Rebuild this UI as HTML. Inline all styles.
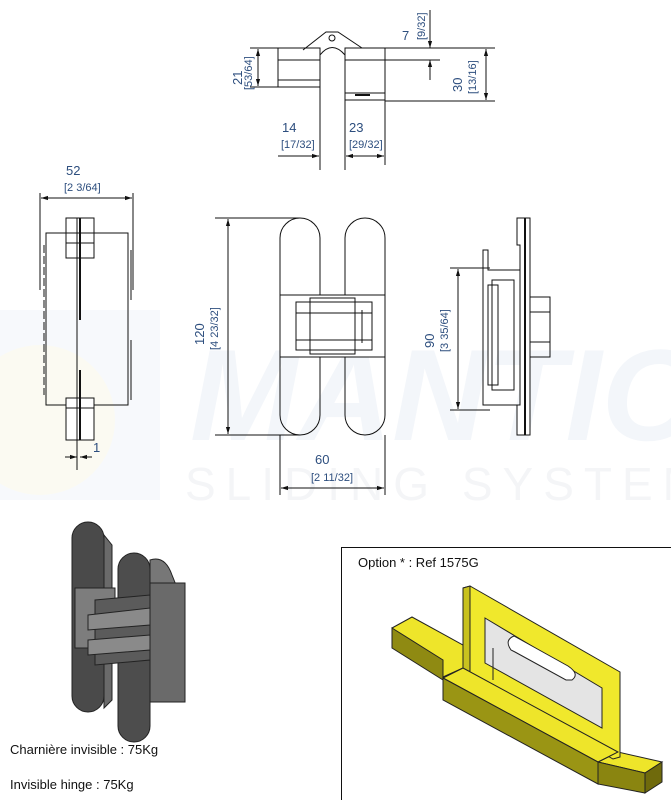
<!DOCTYPE html>
<html><head><meta charset="utf-8"><style>
html,body{margin:0;padding:0;background:#fff;}
svg{display:block;}
text{font-family:"Liberation Sans",sans-serif;}
.b{fill:#2d4e7e;font-size:13px;}
.k{fill:#111;}
</style></head><body>
<svg width="671" height="800" viewBox="0 0 671 800" xmlns="http://www.w3.org/2000/svg">
<defs>
<marker id="a" viewBox="0 0 10 10" refX="10" refY="5" markerWidth="7" markerHeight="7" orient="auto-start-reverse"><path d="M0,2 L10,5 L0,8z" fill="#111"/></marker>
</defs>
<!-- watermark -->
<g>
<path d="M0,310 L160,310 L160,500 L0,500z" fill="#f7f9fc"/>
<circle cx="40" cy="420" r="75" fill="#fbfaf2"/>
<text x="190" y="440" font-size="130" font-style="italic" font-weight="bold" fill="#f3f6fa">MANTION</text>
<text x="185" y="500" font-size="46" fill="#f4f5f7" letter-spacing="10">SLIDING SYSTEM</text>
</g>
<g stroke="#111" stroke-width="1" fill="none">
<!-- TOP VIEW -->
<rect x="278" y="48" width="42" height="39" fill="#fff"/>
<line x1="278" y1="60" x2="320" y2="60"/><line x1="278" y1="80" x2="320" y2="80"/>
<rect x="345" y="48" width="40" height="52" fill="#fff"/>
<line x1="345" y1="60" x2="385" y2="60"/><line x1="345" y1="93" x2="385" y2="93"/>
<path d="M303,50 L326,32 L338,32 L362,48"/>
<circle cx="332" cy="38" r="3"/>
<path d="M320,170 L320,55 Q332,40 345,55 L345,170" fill="#fff"/>
<path d="M355,95 h15" stroke-width="2"/>
<line x1="250" y1="48" x2="278" y2="48"/><line x1="250" y1="87" x2="278" y2="87"/>
<line x1="258" y1="49" x2="258" y2="86" marker-start="url(#a)" marker-end="url(#a)"/>
<line x1="385" y1="48" x2="495" y2="48"/><line x1="385" y1="60" x2="440" y2="60"/><line x1="385" y1="101" x2="495" y2="101"/>
<line x1="430" y1="10" x2="430" y2="48" marker-end="url(#a)"/><line x1="430" y1="80" x2="430" y2="60" marker-end="url(#a)"/>
<line x1="486" y1="49" x2="486" y2="100" marker-start="url(#a)" marker-end="url(#a)"/>
<line x1="385" y1="100" x2="385" y2="165"/>
<line x1="278" y1="156" x2="319" y2="156" marker-end="url(#a)"/>
<line x1="346" y1="156" x2="384" y2="156" marker-start="url(#a)" marker-end="url(#a)"/>
<!-- LEFT SIDE VIEW -->
<line x1="40" y1="193" x2="40" y2="290"/><line x1="133" y1="193" x2="133" y2="290"/>
<line x1="41" y1="198" x2="132" y2="198" marker-start="url(#a)" marker-end="url(#a)"/>
<path d="M46,233 L128,233 L128,405 L46,405 Z"/>
<line x1="44" y1="245" x2="44" y2="395" stroke-dasharray="8 3"/>
<line x1="131" y1="250" x2="131" y2="300"/><line x1="131" y1="340" x2="131" y2="400"/>
<rect x="66" y="218" width="28" height="40" fill="#fff"/>
<rect x="66" y="233" width="28" height="10" fill="#fff"/>
<rect x="66" y="398" width="28" height="42" fill="#fff"/>
<rect x="66" y="398" width="28" height="10" fill="#fff"/>
<line x1="77" y1="218" x2="77" y2="470"/><line x1="80" y1="218" x2="80" y2="320" stroke-width="2"/>
<line x1="80" y1="370" x2="80" y2="440" stroke-width="2"/>
<line x1="65" y1="457" x2="77" y2="457" marker-end="url(#a)"/><line x1="92" y1="457" x2="80" y2="457" marker-end="url(#a)"/>
<!-- FRONT VIEW -->
<rect x="280" y="218" width="40" height="217" rx="20"/>
<rect x="345" y="218" width="40" height="217" rx="20"/>
<rect x="280" y="295" width="105" height="62" fill="#fff"/>
<rect x="296" y="302" width="76" height="48"/>
<rect x="310" y="298" width="45" height="56"/>
<line x1="296" y1="313" x2="372" y2="313"/><line x1="296" y1="340" x2="372" y2="340"/>
<line x1="362" y1="310" x2="362" y2="343"/>
<line x1="215" y1="218" x2="300" y2="218"/><line x1="215" y1="435" x2="300" y2="435"/>
<line x1="228" y1="219" x2="228" y2="434" marker-start="url(#a)" marker-end="url(#a)"/>
<line x1="280" y1="435" x2="280" y2="495"/><line x1="385" y1="435" x2="385" y2="495"/>
<line x1="281" y1="488" x2="384" y2="488" marker-start="url(#a)" marker-end="url(#a)"/>
<!-- RIGHT SIDE VIEW -->
<path d="M517,218 L530,218 L530,435 L517,435 L517,405 L520,405 L520,245 L517,245Z" fill="#fff"/>
<line x1="525" y1="218" x2="525" y2="435" stroke-width="2"/>
<path d="M520,270 L488,270 L488,250 L483,250 L483,405 L520,405"/>
<rect x="488" y="285" width="10" height="100"/>
<rect x="492" y="280" width="22" height="110"/>
<rect x="530" y="297" width="20" height="60"/>
<line x1="530" y1="312" x2="550" y2="312"/><line x1="530" y1="342" x2="550" y2="342"/>
<line x1="450" y1="268" x2="490" y2="268"/><line x1="450" y1="410" x2="490" y2="410"/>
<line x1="458" y1="269" x2="458" y2="409" marker-start="url(#a)" marker-end="url(#a)"/>
</g>
<g class="b">
<text transform="translate(242,85) rotate(-90)">21</text>
<text transform="translate(252,90) rotate(-90)" font-size="11">[53/64]</text>
<text x="402" y="40">7</text>
<text transform="translate(425,40) rotate(-90)" font-size="11">[9/32]</text>
<text transform="translate(462,92) rotate(-90)">30</text>
<text transform="translate(476,94) rotate(-90)" font-size="11">[13/16]</text>
<text x="282" y="132">14</text><text x="281" y="148" font-size="11">[17/32]</text>
<text x="349" y="132">23</text><text x="349" y="148" font-size="11">[29/32]</text>
<text x="66" y="175">52</text><text x="64" y="191" font-size="11">[2 3/64]</text>
<text x="93" y="452">1</text>
<text transform="translate(204,345) rotate(-90)">120</text>
<text transform="translate(218,350) rotate(-90)" font-size="11">[4 23/32]</text>
<text x="315" y="464">60</text><text x="311" y="481" font-size="11">[2 11/32]</text>
<text transform="translate(434,348) rotate(-90)">90</text>
<text transform="translate(448,352) rotate(-90)" font-size="11">[3 35/64]</text>
</g>
<!-- 3D hinge -->
<g stroke="#222" stroke-width="1">
<rect x="72" y="522" width="32" height="190" rx="16" fill="#4a4a4a"/>
<path d="M104,535 L112,545 L112,700 L104,708Z" fill="#6a6a6a"/>
<path d="M150,560 Q165,555 172,575 L178,590 L150,590Z" fill="#777"/>
<rect x="75" y="588" width="40" height="60" fill="#7d7d7d"/>
<rect x="118" y="553" width="32" height="189" rx="16" fill="#4d4d4d"/>
<path d="M150,583 L185,583 L185,702 L150,702Z" fill="#6a6a6a"/>
<path d="M95,600 L150,595 L150,660 L95,665Z" fill="#5b5b5b"/>
<path d="M88,615 L150,608 L150,625 L88,630Z" fill="#8a8a8a"/>
<path d="M88,640 L150,635 L150,650 L88,655Z" fill="#8a8a8a"/>
</g>
<text x="10" y="754" class="k" font-size="13">Charnière invisible : 75Kg</text>
<text x="10" y="789" class="k" font-size="13">Invisible hinge : 75Kg</text>
<!-- option box -->
<rect x="341.5" y="547.5" width="340" height="260" fill="none" stroke="#111"/>
<text x="358" y="567" class="k" font-size="13">Option * : Ref 1575G</text>
<g stroke="#222" stroke-width="1">
<!-- left bar -->
<path d="M392,628 L412,617 L463,645 L463,668 L443,677Z" fill="#eee52a"/>
<path d="M392,628 L443,660 L443,680 L392,648Z" fill="#8f8a12"/>
<!-- right bar -->
<path d="M598,762 L618,752 L662,762 L645,773Z" fill="#eee52a"/>
<path d="M598,762 L645,773 L645,793 L598,784Z" fill="#8a8510"/>
<path d="M645,773 L662,762 L662,782 L645,793Z" fill="#6f6a0c"/>
<!-- plate -->
<path d="M463,588 L470,586 L620,672 L620,757 L613,759 L463,673Z" fill="#f0e82c"/>
<path d="M463,588 L470,586 L470,671 L463,673Z" fill="#c9c21f"/>
<path d="M485,618 L602,688 L602,728 L485,663Z" fill="#e4e4e4"/>
<path d="M511,650 Q504,640 514,636 L568,666 Q580,674 572,680 L566,680 L515,652Z" fill="#fff"/>
<line x1="493" y1="648" x2="493" y2="680"/>
<!-- block under plate -->
<path d="M443,678 L463,668 L618,752 L598,762Z" fill="#eee52a"/>
<path d="M443,678 L598,762 L598,784 L443,700Z" fill="#9a9514"/>
</g>
</svg>
</body></html>
